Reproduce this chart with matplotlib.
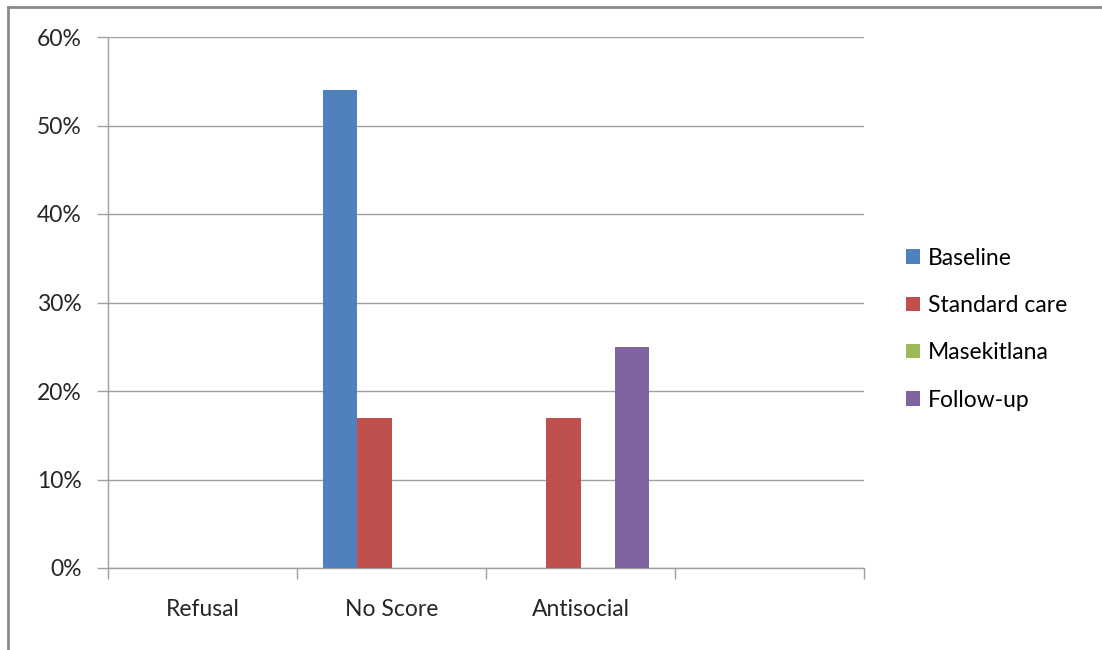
import numpy as np
import matplotlib
matplotlib.use('Agg')
import matplotlib.pyplot as plt
from matplotlib.lines import Line2D

# Chart data (fractions)
categories = ['Refusal', 'No Score', 'Antisocial', '']
series_names = ['Baseline', 'Standard care', 'Masekitlana', 'Follow-up']
baseline = [0.0, 0.54, 0.0, 0.0]
standard_care = [0.0, 0.17, 0.17, 0.0]
masekitlana = [0.0, 0.0, 0.0, 0.0]
follow_up = [0.0, 0.0, 0.25, 0.0]
colors = ['#4f81bd', '#c0504d', '#9bbb59', '#8064a2']
y_ticks = [0.0, 0.1, 0.2, 0.3, 0.4, 0.5, 0.6]

plt.rcParams['font.family'] = ['Lato', 'DejaVu Sans']
fs = 16.5

fig = plt.figure(figsize=(11.02, 6.5), dpi=100)
ax = fig.add_axes([108 / 1102, 82 / 650, (864 - 108) / 1102, (568 - 37) / 650])

x = np.arange(len(categories))
w = 0.18
all_series = [baseline, standard_care, masekitlana, follow_up]
for i, (name, vals) in enumerate(zip(series_names, all_series)):
    ax.bar(x + (i - 1.5) * w, vals, width=w, color=colors[i], label=name, zorder=3)

ax.set_xlim(-0.5, len(categories) - 0.5)
ax.set_ylim(0, 0.6)
ax.set_yticks(y_ticks)
ax.set_yticklabels(['%d%%' % round(v * 100) for v in y_ticks], fontsize=fs, color='#262626')

# category boundaries get the tick marks, labels sit in the middle
ax.set_xticks(np.arange(-0.5, len(categories), 1.0))
ax.set_xticklabels([])
ax.set_xticks(x, minor=True)
ax.set_xticklabels(categories, minor=True, fontsize=fs, color='#262626')
ax.tick_params(axis='x', which='major', length=8, width=1, color='#a0a0a0', direction='out')
ax.tick_params(axis='x', which='minor', length=0, pad=22)
ax.tick_params(axis='y', length=8, width=1, color='#a0a0a0', pad=11)

ax.grid(axis='y', color='#a0a0a0', linewidth=1, zorder=0)
for s in ['top', 'right']:
    ax.spines[s].set_visible(False)
for s in ['left', 'bottom']:
    ax.spines[s].set_color('#a0a0a0')
    ax.spines[s].set_linewidth(1)

leg = ax.legend(loc='center left', bbox_to_anchor=(1.028, 0.45), frameon=False,
                fontsize=fs, handlelength=0.6, handleheight=0.6, handletextpad=0.35,
                labelspacing=1.15)

# outer frame (left and top edges visible)
fig.add_artist(Line2D([8 / 1102, 8 / 1102], [0, 1 - 7 / 650], color='#8a8a8a', lw=2,
                      transform=fig.transFigure))
fig.add_artist(Line2D([8 / 1102, 1], [1 - 7 / 650, 1 - 7 / 650], color='#8a8a8a', lw=2,
                      transform=fig.transFigure))

fig.savefig('out.png', dpi=100)
